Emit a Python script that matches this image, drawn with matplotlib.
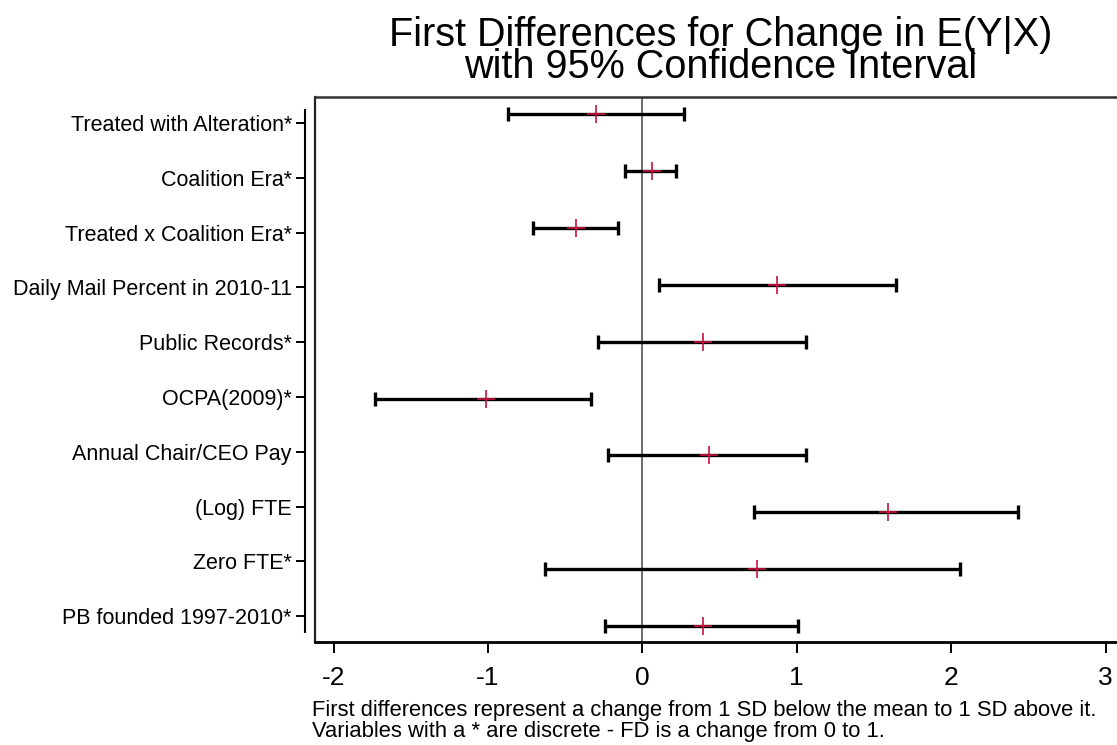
import matplotlib.pyplot as plt

plt.rcParams['font.family'] = ['Liberation Sans', 'DejaVu Sans']

# data
labels = ["Treated with Alteration*", "Coalition Era*", "Treated x Coalition Era*",
          "Daily Mail Percent in 2010-11", "Public Records*", "OCPA(2009)*",
          "Annual Chair/CEO Pay", "(Log) FTE", "Zero FTE*", "PB founded 1997-2010*"]
fd = [-0.30, 0.06, -0.43, 0.87, 0.39, -1.01, 0.43, 1.59, 0.74, 0.39]
lower = [-0.87, -0.11, -0.71, 0.11, -0.29, -1.73, -0.22, 0.72, -0.63, -0.24]
upper = [0.27, 0.22, -0.16, 1.64, 1.06, -0.33, 1.06, 2.43, 2.06, 1.01]
xticks = [-2, -1, 0, 1, 2, 3]

W, H = 1117, 745
fig = plt.figure(figsize=(W / 100, H / 100), dpi=100)

# main plot region (right edge runs past the figure, as in the original)
ax = fig.add_axes([315 / W, (H - 642) / H, (1135 - 315) / W, (642 - 97) / H])

ypos = list(range(1, len(labels) + 1))
err = [[f - lo for f, lo in zip(fd, lower)], [hi - f for f, hi in zip(fd, upper)]]

ax.axvline(0, color='#444444', lw=1.1, zorder=1)
ax.errorbar(fd, ypos, xerr=err, fmt='none', ecolor='black', elinewidth=2.4,
            capsize=4.8, capthick=2.4, zorder=2)
ax.plot(fd, ypos, ls='none', marker='+', color='#c8103c', ms=13, mew=1.2, zorder=3)

ax.set_xlim(-2.12, 3.19)
ax.set_ylim(10.28, 0.70)
ax.set_xticks(xticks)
ax.set_xticklabels([str(t) for t in xticks], fontsize=19)
ax.tick_params(axis='x', direction='out', length=8, width=1.4, pad=9)
ax.set_yticks([])
ax.spines['left'].set_linewidth(1.6)
ax.spines['left'].set_color('#222222')
ax.spines['bottom'].set_linewidth(2.0)
ax.spines['top'].set_linewidth(1.8)
ax.spines['top'].set_color('#333333')
ax.spines['right'].set_visible(False)

# separate label axis on the left (its own spacing, like the Stata original)
lab = fig.add_axes([305 / W, (H - 632) / H, 0.001, (632 - 110) / H])
lab.set_ylim(10.29, 0.76)
lab.set_yticks(ypos)
lab.set_yticklabels(labels, fontsize=15.5)
lab.tick_params(axis='y', direction='out', length=6.5, width=1.4, pad=3)
lab.set_xticks([])
for s in ['top', 'right', 'bottom']:
    lab.spines[s].set_visible(False)
lab.spines['left'].set_linewidth(1.5)
lab.patch.set_visible(False)

fig.text(721 / W, 1 - 51 / H,
         "First Differences for Change in E(Y|X)\nwith 95% Confidence Interval",
         ha='center', va='center', fontsize=28.5, linespacing=0.82)

fig.text(312 / W, 1 - 716 / H,
         "First differences represent a change from 1 SD below the mean to 1 SD above it.",
         ha='left', va='baseline', fontsize=15.8)
fig.text(312 / W, 1 - 737 / H,
         "Variables with a * are discrete - FD is a change from 0 to 1.",
         ha='left', va='baseline', fontsize=15.8)

fig.savefig('out.png', dpi=100)
